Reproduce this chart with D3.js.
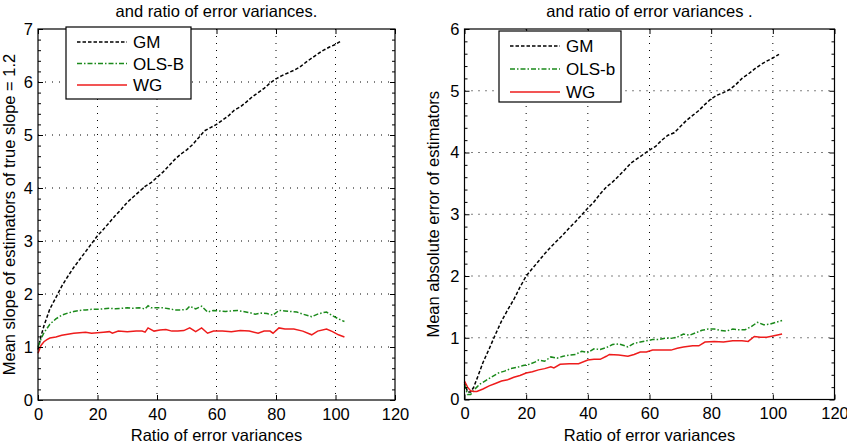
<!DOCTYPE html>
<html>
<head>
<meta charset="utf-8">
<script src="https://cdn.jsdelivr.net/npm/d3@7"></script>
<style>
  body { margin: 0; background: #fff; }
  svg { font-family: "Liberation Sans", Arial, sans-serif; }
</style>
</head>
<body>
<svg id="chart" width="847" height="444"></svg>
<script>
// ---- data ----
const xTicks = [0, 20, 40, 60, 80, 100, 120];

// left panel: mean slope
const slopeGMx = [0,1,2,4,6,8,10,12,14,16,18,20,22,24,26,28,30,32,34,36,38,40,42,44,46,48,50,52,54,56,58,60,62,64,66,68,70,72,74,76,78,80,82,84,86,88,90,92,94,96,98,100,102];
const slopeGM  = [0.95,1.2,1.4,1.72,1.93,2.15,2.33,2.5,2.65,2.8,2.95,3.1,3.22,3.35,3.48,3.6,3.73,3.83,3.93,4.03,4.1,4.2,4.3,4.42,4.54,4.64,4.72,4.82,4.95,5.08,5.14,5.2,5.28,5.36,5.47,5.53,5.62,5.72,5.8,5.88,5.98,6.06,6.12,6.17,6.22,6.28,6.37,6.45,6.53,6.6,6.66,6.71,6.78];

const slopeOLSx = [0,1,2,3,4,6,8,10,12,14,16,18,20,22,24,26,28,30,32,34,36,37,38,40,42,44,46,48,50,51,53,55,57,59,61,63,65,67,69,71,73,75,77,79,81,83,85,87,89,91,92,94,96,97,99,101,103];
const slopeOLS  = [1.0,1.15,1.27,1.35,1.43,1.53,1.6,1.64,1.67,1.69,1.7,1.71,1.71,1.72,1.73,1.72,1.73,1.74,1.73,1.74,1.72,1.78,1.74,1.74,1.74,1.72,1.7,1.7,1.71,1.77,1.72,1.77,1.66,1.69,1.68,1.67,1.68,1.69,1.67,1.65,1.62,1.64,1.63,1.6,1.69,1.68,1.67,1.66,1.62,1.59,1.57,1.62,1.65,1.66,1.59,1.53,1.48];

const slopeWGx = [0,1,2,3,4,6,8,10,12,14,16,18,20,22,24,25,27,30,33,35,36,37,39,41,43,45,47,49,51,53,55,57,59,62,65,68,71,74,76,78,79,81,83,86,89,92,94,97,99,101,103];
const slopeWG  = [0.88,1.03,1.1,1.14,1.17,1.19,1.22,1.24,1.26,1.27,1.28,1.26,1.27,1.28,1.29,1.26,1.3,1.29,1.3,1.3,1.28,1.36,1.3,1.32,1.33,1.3,1.3,1.31,1.36,1.29,1.36,1.26,1.3,1.3,1.29,1.31,1.3,1.26,1.3,1.3,1.26,1.36,1.34,1.34,1.3,1.23,1.3,1.34,1.29,1.23,1.19];

// right panel: mean absolute error
const errGMx = [0,1,2,3,4,6,8,10,12,14,16,18,20,22,24,26,28,30,32,34,36,38,40,42,44,46,48,50,52,54,56,58,60,62,64,66,68,70,72,74,76,78,80,82,84,86,88,90,92,94,96,98,100,102];
const errGM  = [0.28,0.12,0.12,0.2,0.33,0.6,0.82,1.05,1.27,1.45,1.62,1.82,2.0,2.12,2.24,2.36,2.47,2.57,2.67,2.78,2.88,2.99,3.1,3.2,3.33,3.44,3.52,3.62,3.72,3.83,3.9,3.97,4.04,4.1,4.2,4.28,4.32,4.42,4.52,4.6,4.68,4.78,4.87,4.93,4.97,5.02,5.1,5.2,5.27,5.35,5.42,5.48,5.53,5.59];

const errOLSx = [0,1,2,3,4,5,7,9,11,13,15,17,19,21,23,24,26,28,30,32,34,36,38,40,42,44,46,48,50,52,53,55,57,59,61,63,65,67,69,71,73,75,77,79,81,83,85,87,89,91,93,95,97,99,101,103];
const errOLS  = [0.25,0.08,0.08,0.15,0.2,0.25,0.31,0.37,0.43,0.46,0.5,0.52,0.55,0.57,0.61,0.64,0.62,0.69,0.67,0.7,0.72,0.73,0.78,0.76,0.82,0.81,0.84,0.89,0.9,0.87,0.85,0.91,0.93,0.95,0.97,0.97,0.99,0.99,1.01,1.06,1.04,1.08,1.12,1.14,1.14,1.12,1.11,1.14,1.13,1.13,1.18,1.25,1.21,1.22,1.25,1.28];

const errWGx = [0,1,2,3,4,6,8,10,12,14,16,18,20,22,24,26,28,29,31,34,37,40,42,44,46,47,50,53,55,57,59,61,64,67,69,71,74,76,78,81,84,87,90,92,94,96,98,100,103];
const errWG  = [0.3,0.2,0.14,0.13,0.13,0.17,0.22,0.26,0.3,0.32,0.36,0.39,0.43,0.45,0.48,0.5,0.53,0.51,0.57,0.58,0.58,0.64,0.65,0.65,0.7,0.73,0.72,0.7,0.73,0.77,0.77,0.8,0.8,0.8,0.83,0.85,0.87,0.87,0.93,0.94,0.93,0.95,0.95,0.94,1.02,1.01,1.01,1.03,1.06];

const seriesStyle = {
  GM:  { color: "#000", dash: "3.5,2" },
  OLS: { color: "#1b8a1b", dash: "5,2,1.5,2" },
  WG:  { color: "#ee1c1c", dash: null }
};

const FS = 16.5;
const svg = d3.select("#chart");

function drawPanel(opt) {
  const x = d3.scaleLinear().domain([0, 120]).range([opt.left, opt.right]);
  const y = d3.scaleLinear().domain([0, opt.ymax]).range([opt.bottom, opt.top]);
  const g = svg.append("g");

  const yTicks = d3.range(0, opt.ymax + 0.001, 1);
  const yMinor = d3.range(0, opt.ymax + 0.001, 0.2).filter(v => Math.abs(v - Math.round(v)) > 0.01);

  // dotted grid
  g.selectAll("line.gx").data(xTicks.slice(1, -1)).join("line")
    .attr("x1", d => x(d)).attr("x2", d => x(d))
    .attr("y1", opt.top).attr("y2", opt.bottom)
    .attr("stroke", "#000").attr("stroke-width", 1)
    .attr("stroke-dasharray", "1,6");
  g.selectAll("line.gy").data(yTicks.slice(1, -1)).join("line")
    .attr("y1", d => y(d)).attr("y2", d => y(d))
    .attr("x1", opt.left).attr("x2", opt.right)
    .attr("stroke", "#000").attr("stroke-width", 1)
    .attr("stroke-dasharray", "1,6");

  // series
  const line = d3.line().x(d => x(d[0])).y(d => y(d[1]));
  opt.series.forEach(s => {
    const st = seriesStyle[s.key];
    g.append("path")
      .datum(s.xs.map((v, i) => [v, s.ys[i]]))
      .attr("d", line)
      .attr("fill", "none")
      .attr("stroke", st.color)
      .attr("stroke-width", 1.5)
      .attr("stroke-dasharray", st.dash);
  });

  // axes box, ticks inward on all sides
  const bottomAx = d3.axisBottom(x).tickValues(xTicks).tickSizeInner(-5).tickSizeOuter(0).tickPadding(8);
  const topAx = d3.axisTop(x).tickValues(xTicks).tickSizeInner(-5).tickSizeOuter(0).tickFormat("");
  const leftAx = d3.axisLeft(y).tickValues(yTicks).tickSizeInner(-5).tickSizeOuter(0).tickPadding(5).tickFormat(d3.format("d"));
  const rightAx = d3.axisRight(y).tickValues(yTicks).tickSizeInner(-5).tickSizeOuter(0).tickFormat("");
  const leftMinor = d3.axisLeft(y).tickValues(yMinor).tickSizeInner(-3).tickSizeOuter(0).tickFormat("");
  const rightMinor = d3.axisRight(y).tickValues(yMinor).tickSizeInner(-3).tickSizeOuter(0).tickFormat("");

  const axes = [
    [bottomAx, `translate(0,${opt.bottom})`],
    [topAx, `translate(0,${opt.top})`],
    [leftAx, `translate(${opt.left},0)`],
    [rightAx, `translate(${opt.right},0)`],
    [leftMinor, `translate(${opt.left},0)`],
    [rightMinor, `translate(${opt.right},0)`]
  ];
  axes.forEach(([ax, tr]) => {
    const a = g.append("g").attr("transform", tr).call(ax);
    a.select(".domain").remove();
    a.selectAll("line").attr("stroke", "#000");
    a.selectAll("text").attr("font-size", FS).attr("fill", "#000")
      .attr("font-family", "Liberation Sans, Arial, sans-serif");
  });

  g.append("rect")
    .attr("x", opt.left).attr("y", opt.top)
    .attr("width", opt.right - opt.left).attr("height", opt.bottom - opt.top)
    .attr("fill", "none").attr("stroke", "#000").attr("stroke-width", 1.2);

  // labels
  g.append("text")
    .attr("x", (opt.left + opt.right) / 2).attr("y", 441)
    .attr("text-anchor", "middle").attr("font-size", FS)
    .text("Ratio of error variances");
  g.append("text")
    .attr("transform", `translate(${opt.ylabX},${(opt.top + opt.bottom) / 2}) rotate(-90)`)
    .attr("text-anchor", "middle").attr("font-size", FS)
    .text(opt.ylabel);
  g.append("text")
    .attr("x", (opt.left + opt.right) / 2).attr("y", 17)
    .attr("text-anchor", "middle").attr("font-size", FS)
    .text(opt.title);

  // legend
  const L = opt.legend;
  g.append("rect")
    .attr("x", L.x).attr("y", L.y).attr("width", L.w).attr("height", L.h)
    .attr("fill", "#fff").attr("stroke", "#000").attr("stroke-width", 1.2);
  opt.series.forEach((s, i) => {
    const st = seriesStyle[s.key];
    const yy = L.y + 15 + i * L.step;
    g.append("line")
      .attr("x1", L.x + 11).attr("x2", L.x + 61)
      .attr("y1", yy).attr("y2", yy)
      .attr("stroke", st.color).attr("stroke-width", 1.5)
      .attr("stroke-dasharray", st.dash);
    g.append("text")
      .attr("x", L.x + 67).attr("y", yy + 6)
      .attr("font-size", 17)
      .text(s.label);
  });
}

drawPanel({
  left: 38, right: 395, top: 29, bottom: 400, ymax: 7,
  ylabX: 15,
  ylabel: "Mean slope of estimators of true slope = 1.2",
  title: "and ratio of error variances.",
  legend: { x: 66, y: 27, w: 125, h: 72, step: 21.5 },
  series: [
    { key: "GM", label: "GM", xs: slopeGMx, ys: slopeGM },
    { key: "OLS", label: "OLS-B", xs: slopeOLSx, ys: slopeOLS },
    { key: "WG", label: "WG", xs: slopeWGx, ys: slopeWG }
  ]
});

drawPanel({
  left: 464.5, right: 834.5, top: 29, bottom: 399.5, ymax: 6,
  ylabX: 439,
  ylabel: "Mean absolute error of estimators",
  title: "and ratio of error variances .",
  legend: { x: 499, y: 31, w: 122, h: 71, step: 23 },
  series: [
    { key: "GM", label: "GM", xs: errGMx, ys: errGM },
    { key: "OLS", label: "OLS-b", xs: errOLSx, ys: errOLS },
    { key: "WG", label: "WG", xs: errWGx, ys: errWG }
  ]
});
</script>
</body>
</html>
